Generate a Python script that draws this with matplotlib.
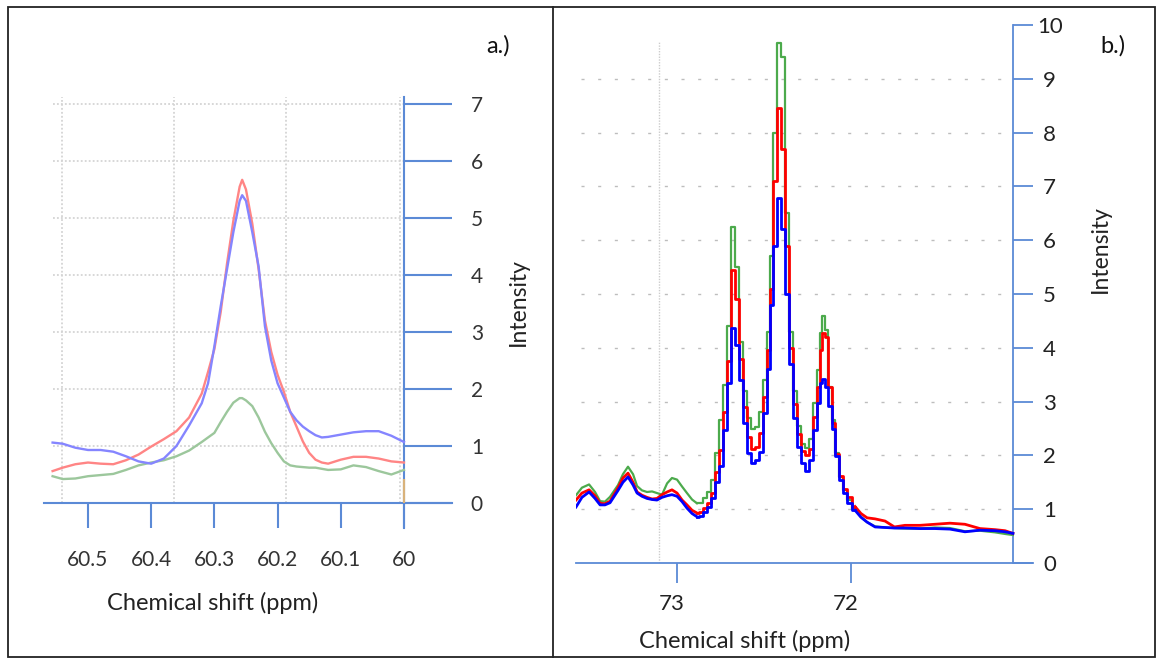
import matplotlib
matplotlib.use("Agg")
import matplotlib.pyplot as plt
import matplotlib.transforms as mtransforms
from matplotlib.patches import Rectangle
from matplotlib.lines import Line2D

plt.rcParams['font.family'] = ['Lato', 'DejaVu Sans']

# ---------------- data: panel a ----------------
shift_a = [60.556, 60.54, 60.52, 60.50, 60.48, 60.46, 60.44, 60.42, 60.40, 60.38,
           60.36, 60.34, 60.32, 60.31, 60.30, 60.29, 60.28, 60.27, 60.26, 60.256,
           60.25, 60.24, 60.23, 60.22, 60.21, 60.20, 60.19, 60.18, 60.17, 60.16,
           60.15, 60.14, 60.13, 60.12, 60.10, 60.08, 60.06, 60.04, 60.02, 60.00]
red_a = [0.56, 0.62, 0.68, 0.71, 0.69, 0.68, 0.75, 0.85, 0.99, 1.12,
         1.26, 1.50, 1.92, 2.30, 2.70, 3.35, 4.20, 4.95, 5.55, 5.67,
         5.50, 4.90, 4.10, 3.20, 2.65, 2.25, 1.95, 1.60, 1.34, 1.08,
         0.88, 0.76, 0.71, 0.69, 0.76, 0.81, 0.81, 0.78, 0.73, 0.71]
blue_a = [1.06, 1.04, 0.97, 0.93, 0.93, 0.90, 0.82, 0.73, 0.69, 0.78,
          1.00, 1.36, 1.75, 2.10, 2.75, 3.45, 4.10, 4.75, 5.30, 5.40,
          5.30, 4.75, 4.15, 3.10, 2.50, 2.10, 1.85, 1.60, 1.45, 1.34,
          1.26, 1.19, 1.15, 1.16, 1.20, 1.24, 1.26, 1.26, 1.18, 1.07]
green_a = [0.47, 0.42, 0.43, 0.47, 0.49, 0.51, 0.58, 0.66, 0.71, 0.75,
           0.82, 0.92, 1.07, 1.15, 1.23, 1.42, 1.60, 1.76, 1.84, 1.84,
           1.80, 1.70, 1.50, 1.25, 1.05, 0.88, 0.73, 0.66, 0.64, 0.63,
           0.62, 0.62, 0.60, 0.58, 0.59, 0.66, 0.63, 0.56, 0.50, 0.58]
xticks_a = [60.5, 60.4, 60.3, 60.2, 60.1, 60.0]
xticklabels_a = ['60.5', '60.4', '60.3', '60.2', '60.1', '60']
yticks_a = [0, 1, 2, 3, 4, 5, 6, 7]
xgrid_a = [60.541, 60.364, 60.187, 60.006]

# ---------------- data: panel b ----------------
shift_b = [73.576, 73.542, 73.501, 73.467, 73.438, 73.410, 73.381, 73.335, 73.307, 73.278,
           73.249, 73.226, 73.198, 73.169, 73.140, 73.112, 73.083, 73.054, 73.026, 72.997,
           72.968, 72.940, 72.911, 72.883, 72.860, 72.837, 72.814, 72.791, 72.768, 72.745,
           72.722, 72.699, 72.676, 72.653, 72.630, 72.607, 72.585, 72.562, 72.539, 72.516,
           72.493, 72.470, 72.453, 72.436, 72.413, 72.390, 72.367, 72.344, 72.321, 72.298,
           72.275, 72.252, 72.229, 72.206, 72.189, 72.172, 72.155, 72.138, 72.120, 72.103,
           72.080, 72.057, 72.034, 72.011, 71.977, 71.943, 71.908, 71.862, 71.805, 71.751,
           71.691, 71.605, 71.519, 71.433, 71.347, 71.261, 71.175, 71.117, 71.072]
green_b = [1.26, 1.40, 1.46, 1.32, 1.15, 1.14, 1.23, 1.45, 1.65, 1.79,
           1.65, 1.43, 1.35, 1.32, 1.33, 1.30, 1.27, 1.48, 1.58, 1.55,
           1.42, 1.30, 1.18, 1.11, 1.12, 1.20, 1.32, 1.55, 2.05, 2.65,
           3.30, 4.40, 6.25, 5.50, 4.10, 3.20, 2.70, 2.50, 2.53, 2.80,
           3.40, 4.30, 5.70, 8.00, 9.66, 9.40, 6.50, 4.30, 3.20, 2.55,
           2.22, 2.14, 2.30, 2.97, 3.59, 4.27, 4.60, 4.33, 3.28, 2.66,
           2.05, 1.60, 1.36, 1.18, 1.00, 0.86, 0.76, 0.68, 0.66, 0.65,
           0.64, 0.64, 0.66, 0.65, 0.59, 0.60, 0.57, 0.54, 0.52]
red_b = [1.17, 1.30, 1.36, 1.25, 1.11, 1.10, 1.15, 1.40, 1.58, 1.67,
         1.50, 1.32, 1.26, 1.22, 1.19, 1.20, 1.27, 1.32, 1.36, 1.30,
         1.17, 1.08, 0.98, 0.93, 0.95, 1.03, 1.12, 1.30, 1.70, 2.10,
         2.80, 3.75, 5.45, 4.90, 3.80, 2.90, 2.35, 2.12, 2.16, 2.42,
         3.09, 3.95, 5.10, 7.10, 8.45, 7.70, 5.90, 4.00, 2.95, 2.40,
         2.08, 2.00, 2.12, 2.72, 3.28, 3.95, 4.27, 4.20, 3.28, 2.60,
         2.02, 1.62, 1.38, 1.22, 1.05, 0.92, 0.84, 0.82, 0.78, 0.67,
         0.70, 0.70, 0.72, 0.74, 0.72, 0.64, 0.62, 0.60, 0.55]
blue_b = [1.04, 1.22, 1.32, 1.20, 1.08, 1.08, 1.12, 1.35, 1.50, 1.60,
          1.45, 1.30, 1.24, 1.20, 1.18, 1.17, 1.22, 1.25, 1.27, 1.24,
          1.14, 1.02, 0.92, 0.86, 0.88, 0.95, 1.05, 1.20, 1.50, 1.80,
          2.47, 3.35, 4.37, 4.05, 3.40, 2.60, 2.05, 1.86, 1.92, 2.06,
          2.79, 3.60, 4.80, 5.90, 6.78, 6.20, 5.00, 3.70, 2.70, 2.15,
          1.85, 1.71, 1.92, 2.47, 2.97, 3.34, 3.42, 3.28, 2.91, 2.50,
          1.98, 1.55, 1.30, 1.12, 0.98, 0.85, 0.76, 0.67, 0.66, 0.65,
          0.65, 0.64, 0.64, 0.63, 0.58, 0.61, 0.60, 0.58, 0.55]
xticks_b = [73, 72]
xticklabels_b = ['73', '72']
yticks_b = [0, 1, 2, 3, 4, 5, 6, 7, 8, 9, 10]
xgrid_b = [73.10]
# index range of the stepped (peak) region of panel b
STEP_FROM, STEP_TO = 23, 64

# ---------------- layout ----------------
W, H = 1157, 659
fig = plt.figure(figsize=(W / 100, H / 100), dpi=100)
fig.patch.set_facecolor('white')


def rect(l, t, r, b):
    return [l / W, 1 - b / H, (r - l) / W, (b - t) / H]


AXIS_BLUE = '#5b8ad6'
TXT = '#333333'

# ---------- panel a ----------
axa = fig.add_axes(rect(44, 97, 452, 503))
axa.set_xlim(60.5696, 59.924)
axa.set_ylim(0, 7.123)
axa.patch.set_alpha(0)
axa.hlines(yticks_a[1:], 60.555, 60.0, colors='#d4d4d4', linestyles=(0, (1, 1.2)), lw=1.3, zorder=1)
axa.vlines(xgrid_a, 0, 7.12, colors='#d4d4d4', linestyles=(0, (1, 1.2)), lw=1.3, zorder=1)
axa.plot(shift_a, green_a, color='#9cc79c', lw=1.7, zorder=3)
axa.plot(shift_a, red_a, color='#ff8585', lw=1.7, zorder=4)
axa.plot(shift_a, blue_a, color='#8585ff', lw=1.7, zorder=5)
axa.vlines([60.0], 0, 0.42, colors='#d9b27a', lw=1.6, zorder=6)
for s in ['top', 'left']:
    axa.spines[s].set_visible(False)
axa.spines['bottom'].set_color(AXIS_BLUE)
axa.spines['bottom'].set_linewidth(1.5)
axa.spines['right'].set_position(('data', 60.0))
axa.spines['right'].set_bounds(-0.44, 7.12)
axa.spines['right'].set_color(AXIS_BLUE)
axa.spines['right'].set_linewidth(1.5)
axa.yaxis.tick_right()
axa.set_xticks(xticks_a, xticklabels_a)
axa.set_yticks(yticks_a, [str(v) for v in yticks_a])
axa.tick_params(axis='x', direction='out', length=18, width=1.5, color=AXIS_BLUE,
                pad=16, labelsize=15, labelcolor=TXT)
axa.tick_params(axis='y', direction='out', length=34.5, width=1.5, color=AXIS_BLUE,
                pad=18, labelsize=15, labelcolor=TXT)
for t in axa.get_yticklabels():
    t.set_horizontalalignment('center')

# ---------- panel b ----------
axb = fig.add_axes(rect(576, 25, 1033, 563))
axb.set_xlim(73.576, 70.957)
axb.set_ylim(0, 10)
axb.patch.set_alpha(0)
axb.hlines(yticks_b[1:-1], 73.55, 71.072, colors='#bdbdbd', linestyles=(0, (2.2, 9.8)), lw=1.0, zorder=1)
axb.vlines(xgrid_b, 0, 9.68, colors='#cccccc', linestyles=(0, (1, 1)), lw=1.0, zorder=1)
series_b = [(green_b, '#4caa4c', 1.6, 3), (red_b, '#ff0000', 2.0, 4), (blue_b, '#0000ff', 2.0, 5)]
for vals, col, lw, z in series_b:
    axb.plot(shift_b[:STEP_FROM + 1], vals[:STEP_FROM + 1], color=col, lw=lw, zorder=z)
    axb.plot(shift_b[STEP_FROM:STEP_TO + 1], vals[STEP_FROM:STEP_TO + 1], color=col, lw=lw,
             drawstyle='steps-mid', zorder=z)
    axb.plot(shift_b[STEP_TO:], vals[STEP_TO:], color=col, lw=lw, zorder=z)
for s in ['top', 'left']:
    axb.spines[s].set_visible(False)
axb.spines['bottom'].set_color(AXIS_BLUE)
axb.spines['bottom'].set_linewidth(1.3)
axb.spines['right'].set_position(('data', 71.072))
axb.spines['right'].set_bounds(0, 10)
axb.spines['right'].set_color(AXIS_BLUE)
axb.spines['right'].set_linewidth(1.3)
axb.yaxis.tick_right()
axb.set_xticks(xticks_b, xticklabels_b)
axb.set_yticks(yticks_b, [str(v) for v in yticks_b])
axb.tick_params(axis='x', direction='out', length=14.4, width=1.3, color=AXIS_BLUE,
                pad=8, labelsize=16, labelcolor='#222222')
axb.tick_params(axis='y', direction='out', length=14.4, width=1.3, color=AXIS_BLUE,
                pad=12, labelsize=16, labelcolor='#222222')
for t in axb.get_yticklabels():
    t.set_horizontalalignment('center')
shift_left = mtransforms.ScaledTranslation(-5 / 100, 0, fig.dpi_scale_trans)
for t in axb.get_xticklabels():
    t.set_transform(t.get_transform() + shift_left)

# ---------- texts ----------
def ftext(x, y, s, **kw):
    fig.text(x / W, 1 - y / H, s, ha='center', va='center', **kw)

ftext(213, 603, 'Chemical shift (ppm)', fontsize=17, color='#222222')
ftext(745, 641, 'Chemical shift (ppm)', fontsize=17, color='#222222')
ftext(518, 302, 'Intensity', fontsize=16.5, color='#222222', rotation=90)
ftext(1100, 249, 'Intensity', fontsize=16.5, color='#222222', rotation=90)
ftext(498, 46, 'a.)', fontsize=17, color='#111111')
ftext(1113, 46, 'b.)', fontsize=17, color='#111111')

# ---------- frame ----------
fig.add_artist(Rectangle((8 / W, 1 - 657 / H), (1155 - 8) / W, (657 - 7) / H,
                         transform=fig.transFigure, fill=False, lw=1.3, ec='#222222'))
fig.add_artist(Line2D([553 / W, 553 / W], [1 - 657 / H, 1 - 7 / H],
                      transform=fig.transFigure, lw=1.3, color='#222222'))

fig.savefig('out.png', dpi=100)
